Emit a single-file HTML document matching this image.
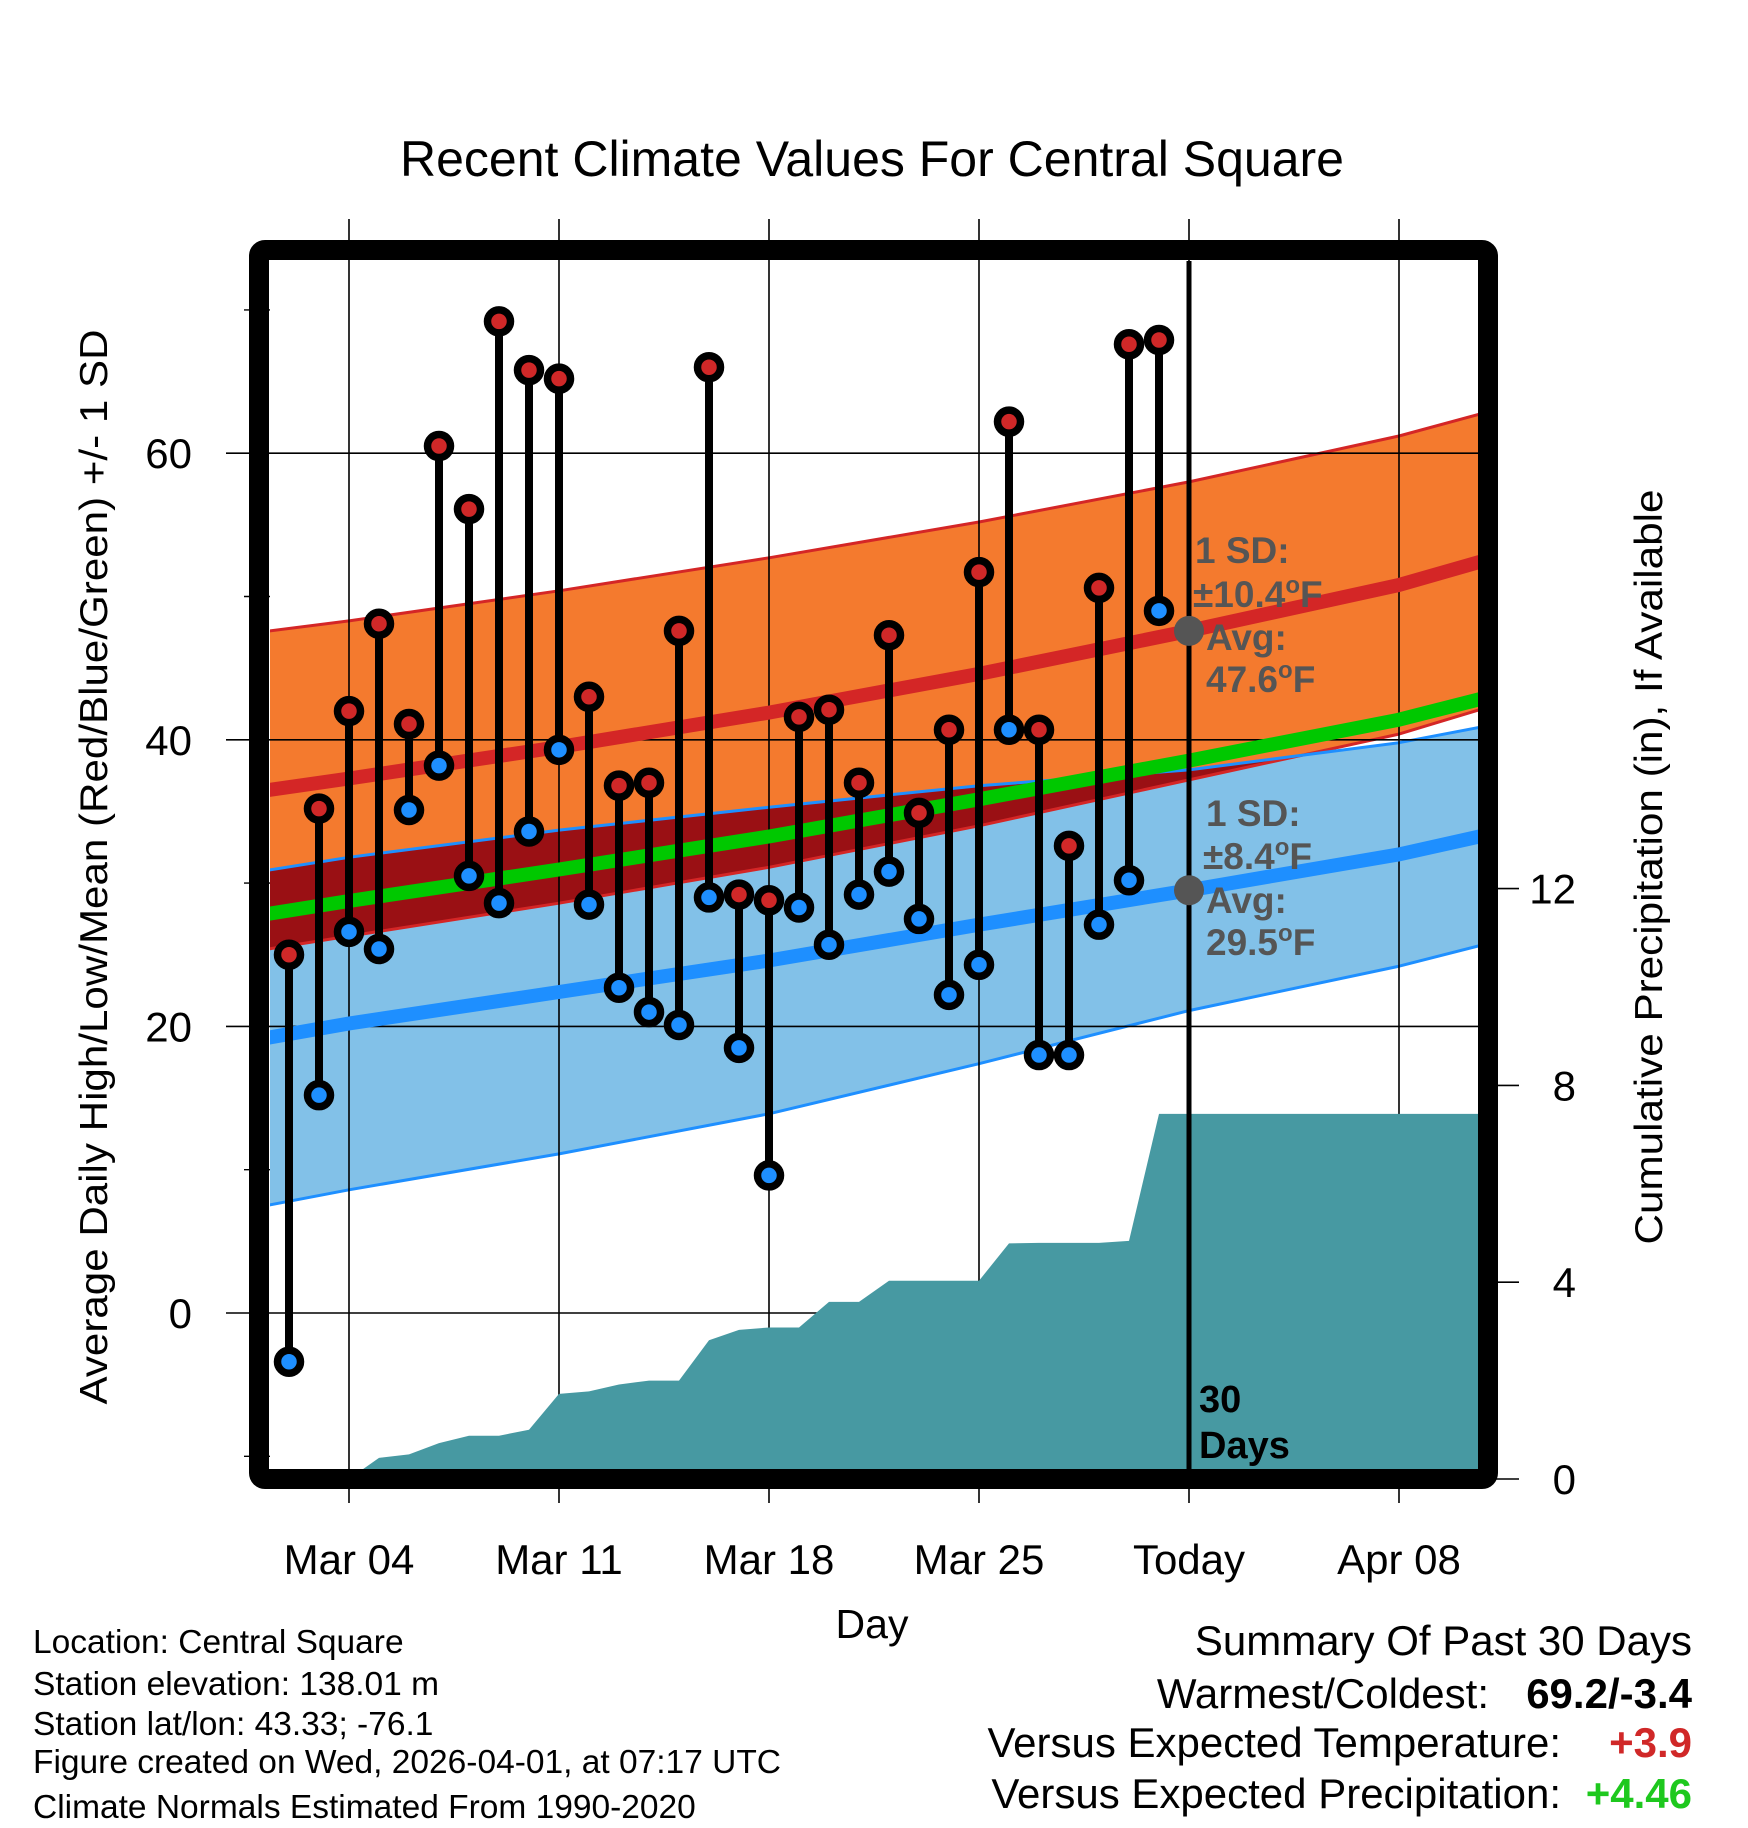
<!DOCTYPE html>
<html><head><meta charset="utf-8"><style>
html,body{margin:0;padding:0;background:#fff;}
svg{display:block;font-family:"Liberation Sans",Arial,sans-serif;}
</style></head><body>
<svg id="chart" xmlns="http://www.w3.org/2000/svg" width="1748" height="1828" viewBox="0 0 1748 1828">
<rect x="0" y="0" width="1748" height="1828" fill="#fff"/>
<text x="872" y="176" font-size="50" text-anchor="middle">Recent Climate Values For Central Square</text>
<g id="fills"></g>
<g id="grid"></g>
<g id="precip"></g>
<g id="lines"></g>
<g id="marks"></g>
<g id="labels"></g>
<text transform="translate(107,867) rotate(-90)" font-size="39" text-anchor="middle" textLength="1075" lengthAdjust="spacingAndGlyphs">Average Daily High/Low/Mean (Red/Blue/Green) +/- 1 SD</text>
<text transform="translate(1662,867) rotate(-90)" font-size="39" text-anchor="middle" textLength="755" lengthAdjust="spacingAndGlyphs">Cumulative Precipitation (in), If Available</text>
<text x="872" y="1638" font-size="41" text-anchor="middle">Day</text>
<g font-size="33.5">
<text x="33" y="1653">Location: Central Square</text>
<text x="33" y="1695">Station elevation: 138.01 m</text>
<text x="33" y="1735">Station lat/lon: 43.33; -76.1</text>
<text x="33" y="1773">Figure created on Wed, 2026-04-01, at 07:17 UTC</text>
<text x="33" y="1818">Climate Normals Estimated From 1990-2020</text>
</g>
<g font-size="42">
<text x="1692" y="1655" text-anchor="end">Summary Of Past 30 Days</text>
<text x="1489" y="1708" text-anchor="end">Warmest/Coldest:</text>
<text x="1692" y="1708" text-anchor="end" font-weight="bold">69.2/-3.4</text>
<text x="1561" y="1757" text-anchor="end">Versus Expected Temperature:</text>
<text x="1692" y="1757" text-anchor="end" font-weight="bold" fill="#d02828">+3.9</text>
<text x="1561" y="1808" text-anchor="end">Versus Expected Precipitation:</text>
<text x="1692" y="1808" text-anchor="end" font-weight="bold" fill="#1ec81e">+4.46</text>
</g>
</svg>
<script>
// ---- data ----
const days = [2,3,4,5,6,7,8,9,10,11,12,13,14,15,16,17,18,19,20,21,22,23,24,25,26,27,28,29,30,31];
const highs = [25,35.2,42,48.1,41.1,60.5,56.1,69.2,65.8,65.2,43,36.8,37,47.6,66,29.2,28.8,41.6,42.1,37,47.3,34.9,40.7,51.7,62.2,40.7,32.6,50.6,67.6,67.9];
const lows = [-3.4,15.2,26.6,25.4,35.1,38.2,30.5,28.6,33.6,39.3,28.5,22.7,21,20.1,29,18.5,9.6,28.3,25.7,29.2,30.8,27.5,22.2,24.3,40.7,18,18,27.1,30.2,49];
const precip = [0,0,0,0.43,0.5,0.73,0.88,0.88,1.0,1.73,1.78,1.92,2.0,2.0,2.82,3.03,3.08,3.08,3.6,3.6,4.03,4.03,4.03,4.03,4.79,4.8,4.8,4.8,4.84,7.42];
const normDays = [1,4,11,18,25,32,39,42];
const normHigh = [36.4,37.3,39.5,41.9,44.6,47.6,50.8,52.6];
const normLow = [19.1,20.2,22.4,24.6,27.1,29.5,32.0,33.4];
const sdHigh = [11.1,11.0,10.9,10.8,10.6,10.4,10.4,10.3];
const sdLow = [11.7,11.6,11.3,10.7,9.7,8.4,7.8,7.6];
const tempTicks = [0,20,40,60];
const tempMinor = [-10,10,30,50,70];
const precipTicks = [0,4,8,12];
const xTickDays = [4,11,18,25,32,39];
const xTickLabels = ["Mar 04","Mar 11","Mar 18","Mar 25","Today","Apr 08"];
const todayDay = 32;
// ---- axes ----
const PL=270, PR=1478, PT=261, PB=1469;
function xs(d){return 349+(d-4)*30;}
function yt(v){return 1313-14.33*v;}
function yp(p){return 1479-49.2*p;}
const NS="http://www.w3.org/2000/svg";
function mk(tag,attrs,parent){const e=document.createElementNS(NS,tag);for(const k in attrs)e.setAttribute(k,attrs[k]);parent.appendChild(e);return e;}
const svg=document.getElementById('chart');
const fills=document.getElementById('fills'),grid=document.getElementById('grid'),pg=document.getElementById('precip'),lines=document.getElementById('lines'),marks=document.getElementById('marks'),labels=document.getElementById('labels');
const defs=mk('defs',{},svg);
const cp=mk('clipPath',{id:'plotclip'},defs);mk('rect',{x:PL,y:PT,width:PR-PL,height:PB-PT},cp);
fills.setAttribute('clip-path','url(#plotclip)');pg.setAttribute('clip-path','url(#plotclip)');lines.setAttribute('clip-path','url(#plotclip)');
function linePts(vals){return normDays.map((d,i)=>xs(d).toFixed(1)+','+yt(vals[i]).toFixed(1));}
const hiUp=normHigh.map((v,i)=>v+sdHigh[i]),hiDn=normHigh.map((v,i)=>v-sdHigh[i]);
const loUp=normLow.map((v,i)=>v+sdLow[i]),loDn=normLow.map((v,i)=>v-sdLow[i]);
const mean=normHigh.map((v,i)=>(v+normLow[i])/2);
const orangePts=linePts(hiUp).concat(linePts(hiDn).reverse()).join(' ');
const bluePts=linePts(loUp).concat(linePts(loDn).reverse()).join(' ');
let e;
e=mk('polygon',{points:orangePts,fill:'#f47a2e'},fills);


e=mk('polygon',{points:bluePts,fill:'#82c1e8'},fills);


const oc=mk('clipPath',{id:'orangeclip'},defs);mk('polygon',{points:orangePts},oc);
e=mk('polygon',{points:bluePts,fill:'#9a1014','clip-path':'url(#orangeclip)'},fills);


[[hiUp,'#d42626',3],[hiDn,'#d42626',3],[loUp,'#1e8fff',3],[loDn,'#1e8fff',3]].forEach(a=>{
 const l=mk('polyline',{points:linePts(a[0]).join(' '),fill:'none',stroke:a[1],'stroke-width':a[2]},fills);
 
 
});
tempTicks.forEach(v=>{const l=mk('line',{x1:226,x2:PR,y1:yt(v),y2:yt(v),stroke:'#000','stroke-width':1.6},grid);
 
 
 const t=mk('text',{x:192,y:yt(v)+15,'font-size':42,'text-anchor':'end'},labels);t.textContent=v;
 
 });
tempMinor.forEach(v=>{const l=mk('line',{x1:244,x2:PL,y1:yt(v),y2:yt(v),stroke:'#000','stroke-width':1.4},grid);
 
 });
xTickDays.forEach((d,i)=>{const l=mk('line',{x1:xs(d),x2:xs(d),y1:219,y2:1503,stroke:'#000','stroke-width':1.6},grid);
 
 
 const t=mk('text',{x:xs(d),y:1574,'font-size':42,'text-anchor':'middle'},labels);t.textContent=xTickLabels[i];
 
 });
precipTicks.forEach(p=>{const l=mk('line',{x1:1490,x2:1519,y1:yp(p),y2:yp(p),stroke:'#000','stroke-width':1.6},grid);
 
 
 const t=mk('text',{x:1576,y:yp(p)+15,'font-size':42,'text-anchor':'end'},labels);t.textContent=p;
 
 });
let pp=[xs(days[0])+','+yp(0)];
days.forEach((d,i)=>pp.push(xs(d)+','+yp(precip[i])));
pp.push(PR+','+yp(precip[precip.length-1]));pp.push(PR+','+(PB+20));pp.push(xs(days[0])+','+(PB+20));
e=mk('polygon',{points:pp.join(' '),fill:'#4799a2'},pg);


[[mean,'#00c800','mean-normal-line'],[normHigh,'#d42626','high-normal-line'],[normLow,'#1e8fff','low-normal-line']].forEach(a=>{
 const l=mk('polyline',{points:linePts(a[0]).join(' '),fill:'none',stroke:a[1],'stroke-width':14},lines);
 
 
});
e=mk('line',{x1:xs(todayDay),x2:xs(todayDay),y1:PT,y2:PB,stroke:'#000','stroke-width':5},lines);


days.forEach((d,i)=>{const l=mk('line',{x1:xs(d),x2:xs(d),y1:yt(highs[i]),y2:yt(lows[i]),stroke:'#000','stroke-width':8},marks);
 
 });
days.forEach((d,i)=>{
 [[highs[i],'#d02828','high-point'],[lows[i],'#1e8fff','low-point']].forEach(a=>{
  const c=mk('circle',{cx:xs(d),cy:yt(a[0]),r:11.5,fill:a[1],stroke:'#000','stroke-width':7.5},marks);
  
  
 });
});
const ti=normDays.indexOf(todayDay);
[normHigh[ti],normLow[ti]].forEach(v=>{const c=mk('circle',{cx:xs(todayDay),cy:yt(v),r:15,fill:'#555'},marks);
 
 });
function ann(x,y,txt,deg,name){const t=mk('text',{x:x,y:y,'font-size':37,'font-weight':'bold',fill:'#555'},labels);
 
 
 t.appendChild(document.createTextNode(txt));
 if(deg){const s=mk('tspan',{'font-size':24,dy:-14},t);s.textContent='o';const f=mk('tspan',{dy:14},t);f.textContent='F';}
}
const xa=xs(todayDay);
ann(xa+6,563,'1 SD:',false,'high-sd-label');
ann(xa+4,607,'\u00b1'+sdHigh[ti].toFixed(1),true,'high-sd-value');
ann(xa+17,650,'Avg:',false,'high-avg-label');
ann(xa+17,692,normHigh[ti].toFixed(1),true,'high-avg-value');
ann(xa+17,826,'1 SD:',false,'low-sd-label');
ann(xa+14,869,'\u00b1'+sdLow[ti].toFixed(1),true,'low-sd-value');
ann(xa+17,913,'Avg:',false,'low-avg-label');
ann(xa+17,955,normLow[ti].toFixed(1),true,'low-avg-value');
[['30',1412],['Days',1458]].forEach(a=>{const t=mk('text',{x:xa+10,y:a[1],'font-size':38,'font-weight':'bold'},labels);t.textContent=a[0];
 
 });
e=mk('rect',{x:259,y:250,width:1229,height:1229,fill:'none',stroke:'#000','stroke-width':20,rx:6,'stroke-linejoin':'round'},svg);


</script>
</body></html>
